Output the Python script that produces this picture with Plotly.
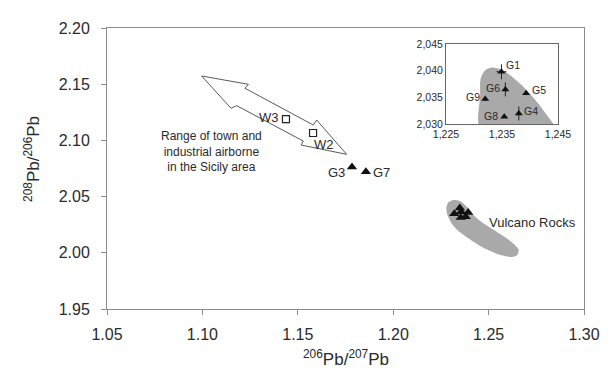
import plotly.graph_objects as go

# ---- data ----
# airborne samples (open squares)
w_names = ["W3", "W2"]
w_x = [1.1438, 1.1580]
w_y = [2.1190, 2.1066]

# G3 / G7 (filled triangles, main plot)
g_names = ["G3", "G7"]
g_x = [1.1784, 1.1857]
g_y = [2.0763, 2.0720]

# Vulcano-area samples (shown in main plot and inset)
v_names = ["G1", "G6", "G5", "G9", "G8", "G4"]
v_x = [1.2349, 1.2356, 1.2393, 1.2320, 1.2354, 1.2380]
v_y = [2.0398, 2.0365, 2.0358, 2.0347, 2.0314, 2.0320]
v_ex = [0.0009, 0.0, 0.0, 0.0, 0.0, 0.0]
v_ey = [0.0014, 0.0013, 0.0004, 0.0004, 0.0, 0.0013]

# Vulcano Rocks field outline (main plot)
rock_x = [1.2289, 1.2315, 1.2350, 1.2394, 1.2420, 1.2472, 1.2542, 1.2595, 1.2638,
          1.2658, 1.2649, 1.2621, 1.2558, 1.2486, 1.2414, 1.2352, 1.2309, 1.2285,
          1.2278, 1.2289]
rock_y = [2.0449, 2.0470, 2.0461, 2.0396, 2.0336, 2.0262, 2.0188, 2.0129, 2.0069,
          2.0025, 1.9978, 1.9962, 1.9982, 2.0033, 2.0106, 2.0180, 2.0255, 2.0332,
          2.0396, 2.0449]

# Vulcano Rocks field outline (inset)
irock_x = [1.2312, 1.2311, 1.2312, 1.2320, 1.2332, 1.2346, 1.2364, 1.2388,
           1.2412, 1.2430, 1.2445, 1.2312]
irock_y = [2.0290, 2.0354, 2.0386, 2.0401, 2.0406, 2.0403, 2.0392, 2.0370,
           2.0342, 2.0317, 2.0290, 2.0290]

# double-headed arrow (range of town and industrial airborne)
arrow_x = [1.0996, 1.1241, 1.1223, 1.1581, 1.1599, 1.1756, 1.1517, 1.1529,
           1.1180, 1.1150, 1.0996]
arrow_y = [2.1573, 2.1499, 2.1464, 2.1137, 2.1181, 2.0876, 2.0959, 2.0994,
           2.1309, 2.1286, 2.1573]

x_ticks = [1.05, 1.10, 1.15, 1.20, 1.25, 1.30]
y_ticks = [1.95, 2.00, 2.05, 2.10, 2.15, 2.20]
ix_ticks = [1.225, 1.235, 1.245]
ix_text = ["1,225", "1,235", "1,245"]
iy_ticks = [2.030, 2.035, 2.040, 2.045]
iy_text = ["2,030", "2,035", "2,040", "2,045"]

FONT = "Liberation Sans, Arial, sans-serif"
TXT = "#2a2a2a"
AX = "#8c8c8c"
GREY = "#a9a9a9"

fig = go.Figure()

# main plot
fig.add_trace(go.Scatter(x=rock_x, y=rock_y, mode="lines", line=dict(width=0, shape="spline", smoothing=0.6),
                         fill="toself", fillcolor=GREY, hoverinfo="skip", showlegend=False))
fig.add_trace(go.Scatter(x=arrow_x, y=arrow_y, mode="lines", line=dict(color="#5a5a5a", width=1),
                         fill="toself", fillcolor="white", hoverinfo="skip", showlegend=False))
fig.add_trace(go.Scatter(x=w_x, y=w_y, mode="markers",
                         marker=dict(symbol="square-open", size=7, color="#222222", line=dict(width=1.2)),
                         showlegend=False))
fig.add_trace(go.Scatter(x=g_x, y=g_y, mode="markers",
                         marker=dict(symbol="triangle-up", size=9, color="#111111"), showlegend=False))
fig.add_trace(go.Scatter(x=v_x, y=v_y, mode="markers",
                         marker=dict(symbol="triangle-up", size=9, color="#111111"), showlegend=False))

# inset
fig.add_trace(go.Scatter(x=irock_x, y=irock_y, mode="lines", line=dict(width=0, shape="spline", smoothing=0.8),
                         fill="toself", fillcolor=GREY, hoverinfo="skip", showlegend=False,
                         xaxis="x2", yaxis="y2"))
fig.add_trace(go.Scatter(x=v_x, y=v_y, mode="markers",
                         marker=dict(symbol="triangle-up", size=7, color="#111111"),
                         error_x=dict(type="data", array=v_ex, color="#222222", thickness=1, width=0),
                         error_y=dict(type="data", array=v_ey, color="#222222", thickness=1, width=0),
                         showlegend=False, xaxis="x2", yaxis="y2"))

ann = []
# main labels
w_off = [(-17, 2), (11, -12)]
for n, x, y, (dx, dy) in zip(w_names, w_x, w_y, w_off):
    ann.append(dict(x=x, y=y, text=n, xshift=dx, yshift=dy, showarrow=False,
                    font=dict(size=13, color=TXT, family=FONT)))
g_off = [(-15, -5), (16, -1)]
for n, x, y, (dx, dy) in zip(g_names, g_x, g_y, g_off):
    ann.append(dict(x=x, y=y, text=n, xshift=dx, yshift=dy, showarrow=False,
                    font=dict(size=13, color=TXT, family=FONT)))
ann.append(dict(x=1.2492, y=2.0274, text="Vulcano Rocks", showarrow=False, xanchor="left",
                font=dict(size=13, color=TXT, family=FONT)))
ann.append(dict(x=1.1050, y=2.0897, text="Range of town and<br>industrial airborne<br>in the Sicily area",
                showarrow=False, align="center", font=dict(size=12, color=TXT, family=FONT)))
# inset labels
iv_off = [(12, 7), (-12, 1), (13, 3), (-12, 2), (-13, 1), (12, 2)]
for n, x, y, (dx, dy) in zip(v_names, v_x, v_y, iv_off):
    ann.append(dict(x=x, y=y, text=n, xref="x2", yref="y2", xshift=dx, yshift=dy, showarrow=False,
                    font=dict(size=10.5, color=TXT, family=FONT)))
# axis titles
ann.append(dict(x=0.5, y=0, xref="paper", yref="paper", yshift=-49, yanchor="middle",
                text="<sup>206</sup>Pb/<sup>207</sup>Pb", showarrow=False,
                font=dict(size=17, color=TXT, family=FONT)))
ann.append(dict(x=0, y=0.534, xref="paper", yref="paper", xshift=-75, xanchor="center",
                text="<sup>208</sup>Pb/<sup>206</sup>Pb", textangle=-90, showarrow=False,
                font=dict(size=17, color=TXT, family=FONT)))

fig.update_layout(
    width=612, height=371,
    margin=dict(l=107, r=28, t=28, b=62),
    paper_bgcolor="white", plot_bgcolor="white",
    font=dict(family=FONT, color=TXT),
    annotations=ann,
    xaxis=dict(range=[1.05, 1.30], tickvals=x_ticks, tickformat=".2f",
               showgrid=False, zeroline=False, showline=True, mirror=True,
               linecolor=AX, linewidth=1, ticks="outside", ticklen=5, tickcolor=AX,
               tickfont=dict(size=16, color=TXT), ticklabelstandoff=6),
    yaxis=dict(range=[1.95, 2.20], tickvals=y_ticks, tickformat=".2f",
               showgrid=False, zeroline=False, showline=True, mirror=True,
               linecolor=AX, linewidth=1, ticks="outside", ticklen=5, tickcolor=AX,
               tickfont=dict(size=16, color=TXT), ticklabelstandoff=8),
    xaxis2=dict(domain=[0.7107, 0.9455], anchor="y2", range=[1.225, 1.245],
                tickvals=ix_ticks, ticktext=ix_text,
                showgrid=False, zeroline=False, showline=True, mirror=True,
                linecolor="#666666", linewidth=1, ticks="", tickfont=dict(size=10.5, color=TXT)),
    yaxis2=dict(domain=[0.658, 0.943], anchor="x2", range=[2.030, 2.045],
                tickvals=iy_ticks, ticktext=iy_text,
                showgrid=False, zeroline=False, showline=True, mirror=True,
                linecolor="#666666", linewidth=1, ticks="", tickfont=dict(size=10.5, color=TXT)),
)

fig.write_html("out.html")
